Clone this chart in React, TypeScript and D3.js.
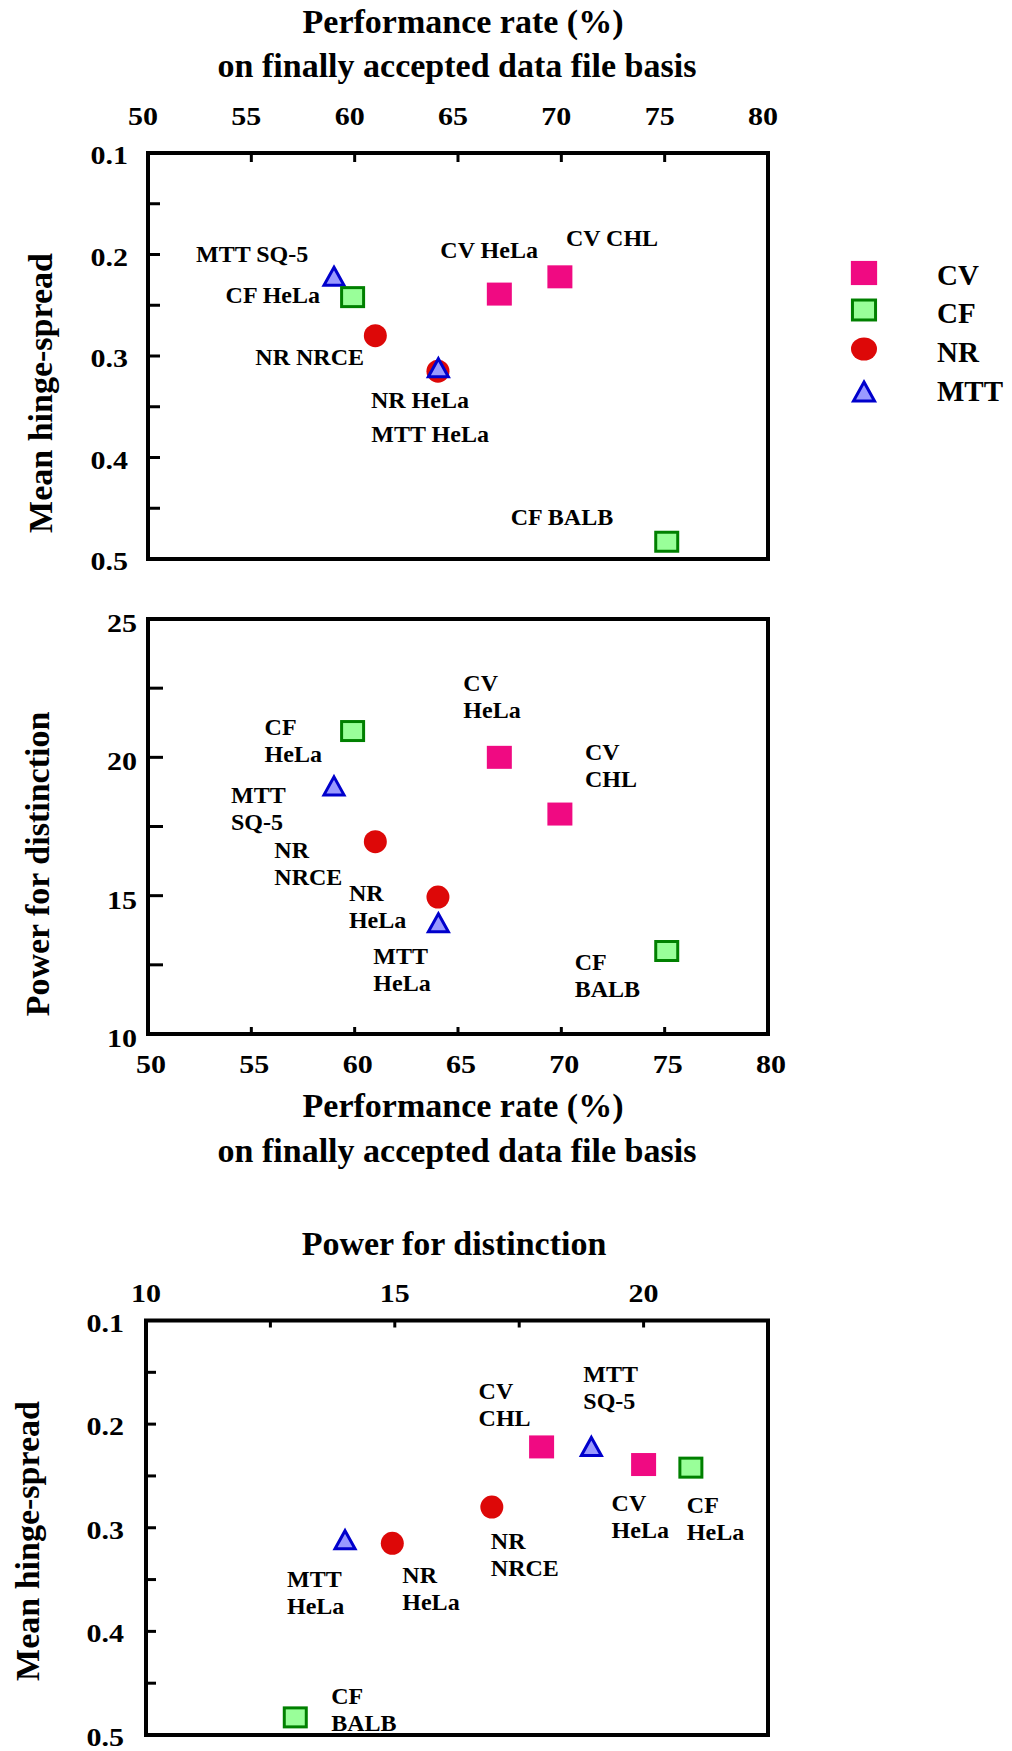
import * as d3 from 'd3';

// cytotoxicity assays: method + cell line
const assays = ["MTT SQ-5", "CF HeLa", "CV HeLa", "CV CHL", "NR NRCE", "NR HeLa", "MTT HeLa", "CF BALB"];
const methods = ["MTT", "CF", "CV", "CV", "NR", "NR", "MTT", "CF"];
const performanceRate = [59.0, 59.9, 67.0, 69.93, 61.0, 64.03, 64.05, 75.1];
const hingeSpread = [0.222, 0.242, 0.239, 0.222, 0.28, 0.315, 0.312, 0.483];
const powerForDistinction = [18.95, 20.95, 20.0, 17.95, 16.95, 14.95, 14.0, 13.0];

const legendMethods = ["CV", "CF", "NR", "MTT"];
const perfTicks = [50, 55, 60, 65, 70, 75, 80];
const hingeTicks = [0.1, 0.2, 0.3, 0.4, 0.5];
const powerTicksLeft = [10, 15, 20, 25];
const powerTicksTop = [10, 15, 20];

const FONT = "'Liberation Serif', 'Times New Roman', Times, serif";

// label placement (pixel offset from the marker to the first baseline)
const topLabelPos: Record<string, [number, number]> = {
  "MTT SQ-5": [-138, -15], "CF HeLa": [-127, 6], "CV HeLa": [-59, -36], "CV CHL": [6, -31],
  "NR NRCE": [-120, 29], "NR HeLa": [-67, 37], "MTT HeLa": [-67, 74], "CF BALB": [-156, -17],
};
const midLabelPos: Record<string, [number, number]> = {
  "MTT SQ-5": [-103, 17], "CF HeLa": [-88, 4], "CV HeLa": [-36, -66], "CV CHL": [25, -54],
  "NR NRCE": [-101, 16], "NR HeLa": [-89, 4], "MTT HeLa": [-65, 41], "CF BALB": [-92, 19],
};
const botLabelPos: Record<string, [number, number]> = {
  "MTT SQ-5": [-8, -65], "CF HeLa": [-4, 45], "CV HeLa": [-32, 46], "CV CHL": [-63, -48],
  "NR NRCE": [-1, 42], "NR HeLa": [10, 40], "MTT HeLa": [-58, 47], "CF BALB": [36, -13],
};

const xPerf = d3.scaleLinear().domain([50, 80]).range([148, 768]);
const yHingeTop = d3.scaleLinear().domain([0.1, 0.5]).range([153, 559]);
const yPower = d3.scaleLinear().domain([10, 25]).range([1034, 619]);
const xPower = d3.scaleLinear().domain([10, 22.5]).range([146, 768]);
const yHingeBot = d3.scaleLinear().domain([0.1, 0.5]).range([1320.5, 1735]);

function Marker({ method, x, y, big = false }: { method: string; x: number; y: number; big?: boolean }) {
  const k = big ? 1.05 : 1;
  if (method === "CV") {
    const w = 25 * k, h = 23 * k;
    return <rect x={x - w / 2} y={y - h / 2} width={w} height={h} fill="#f00a82" />;
  }
  if (method === "CF") {
    const w = 22 * k, h = 19 * k;
    return <rect x={x - w / 2} y={y - h / 2} width={w} height={h} fill="#99ff99" stroke="#008000" strokeWidth={3} />;
  }
  if (method === "NR") {
    return <ellipse cx={x} cy={y} rx={(big ? 13 : 11.5)} ry={11.5} fill="#dd0808" />;
  }
  const hw = 10 * k, top = 9.5 * k, bot = 8.5 * k;
  const path = d3.path();
  path.moveTo(x, y - top);
  path.lineTo(x + hw, y + bot);
  path.lineTo(x - hw, y + bot);
  path.closePath();
  return <path d={path.toString()} fill="#9999ff" stroke="#0000cc" strokeWidth={3} strokeLinejoin="miter" />;
}

function TickText({ x, y, anchor, children }: { x: number; y: number; anchor: string; children: any }) {
  return (
    <text transform={`translate(${x},${y}) scale(1.2,1)`} textAnchor={anchor} fontSize={25} fontWeight="bold">
      {children}
    </text>
  );
}

function Frame({ x0, x1, y0, y1 }: { x0: number; x1: number; y0: number; y1: number }) {
  return <rect x={x0} y={y0} width={x1 - x0} height={y1 - y0} fill="none" stroke="#000" strokeWidth={4} />;
}

function Labels({ xs, ys, pos, split }: { xs: number[]; ys: number[]; pos: Record<string, [number, number]>; split: boolean }) {
  return (
    <g fontSize={24} fontWeight="bold">
      {assays.map((a, i) => {
        const [dx, dy] = pos[a];
        const lines = split ? a.split(" ") : [a];
        return (
          <text key={a} x={xs[i] + dx} y={ys[i] + dy}>
            {lines.map((l, j) => (
              <tspan key={j} x={xs[i] + dx} dy={j === 0 ? 0 : 27}>{l}</tspan>
            ))}
          </text>
        );
      })}
    </g>
  );
}

function Points({ xs, ys }: { xs: number[]; ys: number[] }) {
  return (
    <g>
      {assays.map((a, i) => (
        <Marker key={a} method={methods[i]} x={xs[i]} y={ys[i]} />
      ))}
    </g>
  );
}

export default function App() {
  const hingeMinor = d3.range(0.15, 0.5, 0.05);
  const powerMinor = d3.range(12.5, 25, 2.5);
  const perfMinor = d3.range(55, 80, 5);
  const powerTopMinor = d3.range(12.5, 22.5, 2.5);

  const [px0, px1] = xPerf.range();
  const [hy0, hy1] = yHingeTop.range();
  const [py1, py0] = yPower.range();
  const [bx0, bx1] = xPower.range();
  const [by0, by1] = yHingeBot.range();

  const topX = performanceRate.map(v => xPerf(v));
  const topY = hingeSpread.map(v => yHingeTop(v));
  const midY = powerForDistinction.map(v => yPower(v));
  const botX = powerForDistinction.map(v => xPower(v));
  const botY = hingeSpread.map(v => yHingeBot(v));

  return (
    <svg width={1012} height={1751} style={{ position: 'absolute', left: 0, top: 0, background: '#fff' }}
      fontFamily={FONT} fill="#000">
      {/* ---------- top panel ---------- */}
      <g fontSize={34} fontWeight="bold" textAnchor="middle">
        <text x={463} y={33}>Performance rate (%)</text>
        <text x={457} y={77}>on finally accepted data file basis</text>
      </g>
      {perfTicks.map(t => (
        <TickText key={t} x={xPerf(t) - 5} y={125} anchor="middle">{t}</TickText>
      ))}
      {hingeTicks.map(t => (
        <TickText key={t} x={128} y={yHingeTop(t) + 11} anchor="end">{t.toFixed(1)}</TickText>
      ))}
      <g stroke="#000" strokeWidth={3}>
        {perfMinor.map(t => <line key={t} x1={xPerf(t)} x2={xPerf(t)} y1={hy0} y2={hy0 + 9} />)}
        {hingeMinor.map(t => <line key={t} x1={px0} x2={px0 + 12} y1={yHingeTop(t)} y2={yHingeTop(t)} />)}
      </g>
      <Frame x0={px0} x1={px1} y0={hy0} y1={hy1} />
      <text transform="translate(40,393) rotate(-90)" textAnchor="middle" dominantBaseline="central"
        fontSize={34} fontWeight="bold">Mean hinge-spread</text>
      <Points xs={topX} ys={topY} />
      <Labels xs={topX} ys={topY} pos={topLabelPos} split={false} />

      {/* legend */}
      {legendMethods.map((m, i) => (
        <g key={m}>
          <Marker method={m} x={864} y={[273, 310, 349, 392][i]} big />
          <text x={937} y={[285, 323, 362, 401][i]} fontSize={29} fontWeight="bold">{m}</text>
        </g>
      ))}

      {/* ---------- middle panel ---------- */}
      {powerTicksLeft.map(t => (
        <TickText key={t} x={137} y={yPower(t) + 13} anchor="end">{t}</TickText>
      ))}
      {perfTicks.map(t => (
        <TickText key={t} x={xPerf(t) + 3} y={1073} anchor="middle">{t}</TickText>
      ))}
      <g stroke="#000" strokeWidth={3}>
        {perfMinor.map(t => <line key={t} x1={xPerf(t)} x2={xPerf(t)} y1={py1} y2={py1 - 7} />)}
        {powerMinor.map(t => <line key={t} x1={px0} x2={px0 + 15} y1={yPower(t)} y2={yPower(t)} />)}
      </g>
      <Frame x0={px0} x1={px1} y0={py0} y1={py1} />
      <text transform="translate(37,864) rotate(-90)" textAnchor="middle" dominantBaseline="central"
        fontSize={34} fontWeight="bold">Power for distinction</text>
      <g fontSize={34} fontWeight="bold" textAnchor="middle">
        <text x={463} y={1117}>Performance rate (%)</text>
        <text x={457} y={1162}>on finally accepted data file basis</text>
      </g>
      <Points xs={topX} ys={midY} />
      <Labels xs={topX} ys={midY} pos={midLabelPos} split />

      {/* ---------- bottom panel ---------- */}
      <text x={454} y={1255} fontSize={34} fontWeight="bold" textAnchor="middle">Power for distinction</text>
      {powerTicksTop.map(t => (
        <TickText key={t} x={xPower(t)} y={1302} anchor="middle">{t}</TickText>
      ))}
      {hingeTicks.map(t => (
        <TickText key={t} x={124} y={yHingeBot(t) + 11} anchor="end">{t.toFixed(1)}</TickText>
      ))}
      <g stroke="#000" strokeWidth={3}>
        {powerTopMinor.map(t => <line key={t} x1={xPower(t)} x2={xPower(t)} y1={by0} y2={by0 + 7} />)}
        {hingeMinor.map(t => <line key={t} x1={bx0} x2={bx0 + 10} y1={yHingeBot(t)} y2={yHingeBot(t)} />)}
      </g>
      <Frame x0={bx0} x1={bx1} y0={by0} y1={by1} />
      <text transform="translate(27,1541) rotate(-90)" textAnchor="middle" dominantBaseline="central"
        fontSize={34} fontWeight="bold">Mean hinge-spread</text>
      <Points xs={botX} ys={botY} />
      <Labels xs={botX} ys={botY} pos={botLabelPos} split />
    </svg>
  );
}
